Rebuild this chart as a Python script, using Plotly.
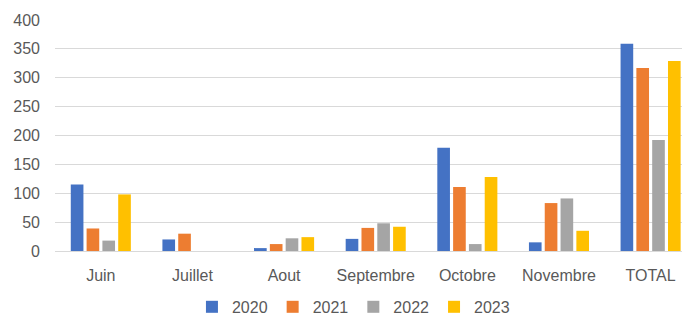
import plotly.graph_objects as go

categories = ["Juin", "Juillet", "Aout", "Septembre", "Octobre", "Novembre", "TOTAL"]
series_names = ["2020", "2021", "2022", "2023"]
values_2020 = [115, 20, 5, 21, 179, 15, 359]
values_2021 = [39, 30, 12, 40, 111, 83, 317]
values_2022 = [18, 0, 22, 48, 12, 91, 192]
values_2023 = [98, 0, 24, 42, 128, 35, 329]
colors = ["#4472C4", "#ED7D31", "#A5A5A5", "#FFC000"]
y_ticks = [0, 50, 100, 150, 200, 250, 300, 350, 400]

fig = go.Figure()
for name, vals, col in zip(series_names, [values_2020, values_2021, values_2022, values_2023], colors):
    fig.add_trace(go.Bar(x=categories, y=vals, name=name, marker_color=col, marker_line_width=0))

font_family = "Liberation Sans"
# page body has an 8px margin, so the figure is sized 8px smaller than the window
fig.update_layout(
    width=682, height=307,
    margin=dict(l=47, r=0, t=12, b=64, autoexpand=False),
    paper_bgcolor="white", plot_bgcolor="white",
    barmode="group", bargap=0.31, bargroupgap=0.2,
    font=dict(family=font_family, size=16, color="#595959"),
    showlegend=True,
    legend=dict(orientation="h", x=0.47, xanchor="center", yref="paper", y=-0.242, yanchor="middle",
                font=dict(size=16, color="#595959"), itemwidth=30, traceorder="normal"),
    xaxis=dict(range=[-0.5, 6.43], showgrid=False, showline=False, zeroline=False,
               tickfont=dict(size=16, color="#595959"), ticklabelstandoff=13),
    yaxis=dict(range=[0, 400], tickvals=y_ticks, showgrid=True, gridcolor="#D9D9D9", gridwidth=1,
               zeroline=True, zerolinecolor="#D9D9D9", zerolinewidth=1, showline=False,
               tickfont=dict(size=16, color="#595959"), ticklabelstandoff=14),
)
fig.write_html("out.html")
